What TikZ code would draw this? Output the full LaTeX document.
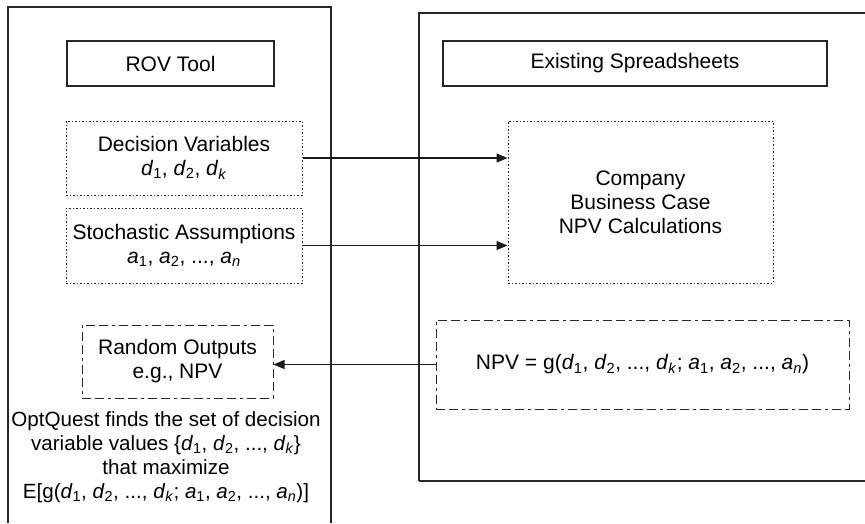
\documentclass[tikz,border=0pt]{standalone}
\usepackage{fontspec}
\setmainfont{Liberation Sans}
\usetikzlibrary{arrows.meta,positioning}

\newcommand{\vsub}[2]{\textit{#1}\textsubscript{#2}}

\begin{document}
\begin{tikzpicture}[
  x=1pt, y=-1pt,
  font=\fontsize{21}{24}\selectfont,
  % Node styles
  panel/.style={draw=black!85, line width=1.1pt},
  title/.style={rectangle, draw=black!85, line width=1.1pt, inner sep=0pt, minimum height=45pt, align=center},
  inbox/.style={rectangle, draw=black!85, line width=1pt, dash pattern=on 1.5pt off 2pt, inner sep=0pt, align=center},
  outbox/.style={rectangle, draw=black!85, line width=1pt, dash pattern=on 9pt off 4pt on 9pt off 4pt on 3pt off 4pt, inner sep=0pt, align=center},
  arr/.style={-{Triangle[length=11pt,width=9pt]}, line width=1.2pt, color=black!90}
]
  \useasboundingbox (0,0) rectangle (865,523);

  % ============================================
  % Panels
  % ============================================
  \coordinate (lp-bl) at (8,523);
  \coordinate (lp-tr) at (331,7);
  \draw[panel] (lp-bl) |- (lp-tr) -- (lp-tr |- lp-bl);

  \coordinate (rp-tl) at (419,13);
  \coordinate (rp-br) at (865,481);
  \draw[panel] (rp-br -| rp-tl) -- (rp-tl) -- (rp-tl -| rp-br);
  \draw[panel] (rp-br -| rp-tl) -- (rp-br);

  % ============================================
  % LEFT SIDE: ROV Tool
  % ============================================
  \node[title, minimum width=207pt] (rov) at (170.5,63.5) {ROV Tool};

  \node[inbox, minimum width=236pt, minimum height=74pt] (decvars) at (184,158)
    {Decision Variables\\\vsub{d}{1}, \vsub{d}{2}, \vsub{d}{\textit{k}}};
  \node[inbox, minimum width=236pt, minimum height=75pt] (stoch) at (184,245.5)
    {Stochastic Assumptions\\\vsub{a}{1}, \vsub{a}{2}, ..., \vsub{a}{\textit{n}}};

  \node[outbox, minimum width=191pt, minimum height=73pt] (randout) at (177.5,361.5)
    {Random Outputs\\e.g., NPV};

  \node[align=center, inner sep=0pt, font=\fontsize{20.6}{24}\selectfont] (optq) at (166,457)
    {OptQuest finds the set of decision\\variable values \{\vsub{d}{1}, \vsub{d}{2}, ..., \vsub{d}{\textit{k}}\}\\that maximize\\E[g(\vsub{d}{1}, \vsub{d}{2}, ..., \vsub{d}{\textit{k}}; \vsub{a}{1}, \vsub{a}{2}, ..., \vsub{a}{\textit{n}})]};

  % ============================================
  % RIGHT SIDE: Existing Spreadsheets
  % ============================================
  \node[title, minimum width=384pt] (sheets) at (635,63.5) {Existing Spreadsheets};

  \node[inbox, minimum width=265pt, minimum height=162pt] (company) at (640.5,202)
    {Company\\Business Case\\NPV Calculations};

  \node[outbox, minimum width=413pt, minimum height=89pt] (npv) at (642.5,364.5)
    {NPV = g(\vsub{d}{1}, \vsub{d}{2}, ..., \vsub{d}{\textit{k}}; \vsub{a}{1}, \vsub{a}{2}, ..., \vsub{a}{\textit{n}})};

  % ============================================
  % Edges
  % ============================================
  \draw[arr] (decvars.east) -- (decvars.east -| company.west);
  \draw[arr] (stoch.east) -- (stoch.east -| company.west);
  \draw[arr] (npv.west) -- (npv.west -| randout.east);

\end{tikzpicture}
\end{document}
